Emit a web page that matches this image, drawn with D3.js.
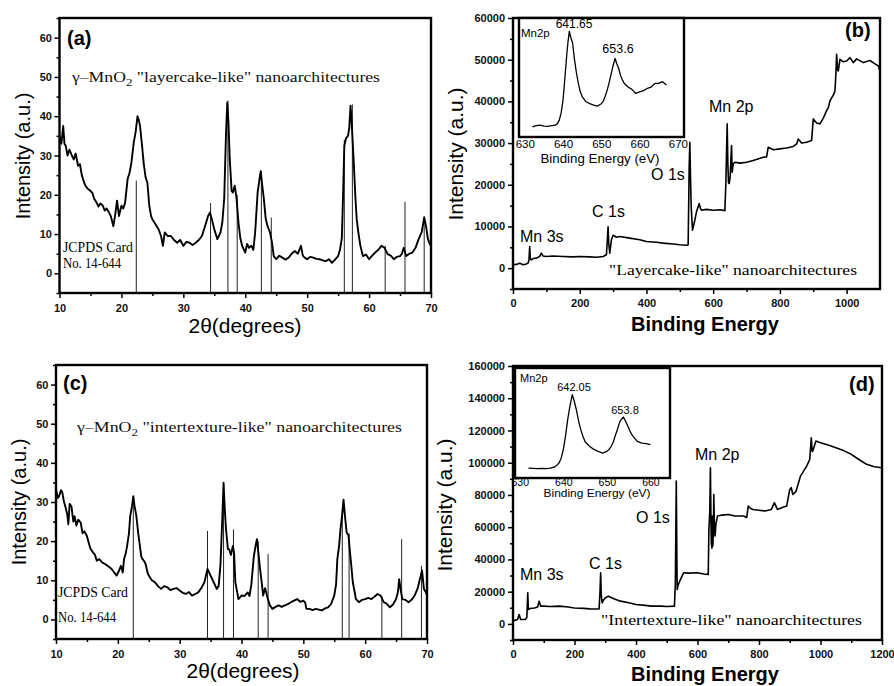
<!DOCTYPE html>
<html>
<head>
<meta charset="utf-8">
<script src="https://cdn.jsdelivr.net/npm/d3@7"></script>
<style>
  body { margin: 0; background: #fff; }
  svg { display: block; }
</style>
</head>
<body>
<svg id="fig" width="894" height="686"></svg>
<script>
// ---- data ----

// (a) XRD, layercake-like: [2theta, intensity]
const xrdA = [[10,35],[10.3,33],[10.6,37.5],[10.8,33],[11,32.5],[11.3,30],[11.6,31.5],[12,30],[12.3,29],[12.6,30.5],[13,27.4],[13.3,27.8],[13.6,25],[14,23],[14.3,22],[14.6,21.5],[15,21],[15.3,20.5],[15.6,19],[16,18],[16.3,17],[16.6,17.8],[17,17.2],[17.3,16],[17.6,16.5],[18,15.5],[18.3,14.5],[18.7,12],[19,15],[19.3,18.5],[19.6,14.6],[20,17.2],[20.3,16.5],[20.6,18],[21,24],[21.3,25.5],[21.6,28],[22,33.4],[22.3,36],[22.6,40],[22.8,39],[23,37.6],[23.3,33],[23.6,28],[23.9,24.5],[24.2,23],[24.5,17.2],[24.8,14.5],[25,13.8],[25.5,12.5],[26,11.2],[26.4,9.5],[26.7,7],[27,10.4],[27.5,9.5],[28,9.5],[28.5,8.5],[29,7.8],[29.5,8.5],[30,7],[30.5,8],[31,7.8],[31.5,7.2],[32,7.8],[32.5,8.5],[33,9.5],[33.5,12],[34,14.6],[34.3,15.5],[34.6,13.8],[35,11.2],[35.5,8.7],[36,10.4],[36.3,13],[36.6,19],[36.9,36],[37.1,43.5],[37.3,38],[37.5,29],[37.8,21],[38,20.6],[38.3,22.3],[38.6,19],[38.9,13],[39.2,9],[39.5,7],[40,5.3],[40.3,7.5],[40.6,6.5],[41,7],[41.3,6],[41.6,10.4],[42,20.6],[42.3,24],[42.5,26],[42.7,23],[43,19],[43.3,14],[43.6,12],[44,10.4],[44.3,8],[44.6,4.4],[45,3.6],[45.5,4.5],[46,4],[46.5,3.5],[47,4],[47.5,5],[48,5.7],[48.5,5],[49,7],[49.3,4.5],[49.6,4],[50,3.6],[50.5,4.2],[51,4],[51.5,3.7],[52,3.6],[52.5,3.3],[53,3.1],[53.5,3.6],[54,2.7],[54.5,3.5],[55,4.4],[55.3,6],[55.6,9],[55.8,20],[56,32.5],[56.3,34.5],[56.6,35],[56.8,37],[57,42.7],[57.2,38],[57.5,29],[57.8,19],[58,13.8],[58.3,10],[58.6,7],[59,4.4],[59.5,4.8],[60,3.6],[60.5,4.5],[61,5.3],[61.5,6],[62,7],[62.5,6.5],[63,4.9],[63.5,4.5],[64,3.6],[64.5,4.2],[65,4.4],[65.3,5],[65.6,6.5],[66,4.4],[66.5,5],[67,5.3],[67.5,6.5],[68,8.7],[68.5,10.5],[68.9,14.2],[69.2,12],[69.5,8.7],[69.8,7.5],[70,7]]

// JCPDS 14-644 reference lines for (a): positions and heights
const jcpdsPosA = [22.4, 34.4, 37.2, 38.7, 42.6, 44.2, 56.0, 57.3, 62.6, 65.8, 68.9]
const jcpdsHtA  = [23.6, 17.9, 44, 20, 26, 14.2, 34, 43, 7, 18.2, 14.6]

// (c) XRD, intertexture-like
const xrdC = [[10,33.2],[10.3,31],[10.5,31.5],[10.8,33],[11,32.6],[11.3,30],[11.5,28.9],[11.8,27],[12,24.3],[12.2,29.5],[12.5,28.9],[12.8,25],[13,26.4],[13.3,24],[13.6,25.5],[14,24.7],[14.3,22],[14.6,22.5],[15,21.3],[15.3,19.5],[15.6,18],[16,17.1],[16.3,16.5],[16.6,15],[17,15.4],[17.5,14.5],[18,14.1],[18.5,13.5],[19,12.9],[19.4,12],[19.8,11.2],[20.2,12.5],[20.5,13.7],[20.8,12],[21,15.4],[21.3,17],[21.5,18.8],[21.8,22],[22,26.4],[22.3,29],[22.5,31.5],[22.7,29],[23,26.4],[23.3,22],[23.5,19.6],[23.8,16],[24,15.4],[24.3,14.8],[24.5,14.1],[24.8,12],[25,11.2],[25.5,10],[26,9.5],[26.5,8.5],[27,7.8],[27.5,8.5],[28,8.2],[28.5,7.5],[29,7.8],[29.5,8],[30,7.4],[30.5,6.8],[31,6.5],[31.5,7],[32,6.1],[32.5,6.5],[33,6.9],[33.5,8],[34,9.5],[34.5,12.9],[35,11.2],[35.5,9.5],[36,7.8],[36.3,8.5],[36.6,14],[36.9,26],[37.1,34.9],[37.3,28],[37.5,23],[37.8,18],[38,17.9],[38.3,16.5],[38.6,18.8],[38.8,17],[39,9.5],[39.3,7],[39.5,5.2],[40,6.1],[40.5,6],[41,6.9],[41.3,6],[41.6,9],[42,16.2],[42.3,19],[42.5,20.5],[42.8,16],[43,12.9],[43.3,9],[43.5,6.1],[43.8,8],[44,6.9],[44.3,5],[44.6,3.6],[45,2.7],[45.5,3.2],[46,3.6],[46.5,3.2],[47,3.6],[47.5,3.9],[48,4.4],[48.5,4.8],[49,5.2],[49.5,4.5],[50,4.8],[50.3,4.3],[50.5,2.7],[51,2.7],[51.5,2.4],[52,2.7],[52.5,2.5],[53,2.3],[53.5,2.8],[54,3.1],[54.5,4],[55,6.1],[55.3,9],[55.5,15.4],[55.8,19],[56,23],[56.3,27],[56.5,30.6],[56.7,27],[57,22.2],[57.3,21.5],[57.5,17.9],[57.8,13],[58,9.5],[58.3,7],[58.5,5.2],[59,4.4],[59.5,5],[60,5.2],[60.5,5.5],[61,5.2],[61.5,5.8],[62,6.5],[62.5,6.1],[63,4.4],[63.5,4],[64,3.1],[64.5,3.8],[65,5.2],[65.3,7],[65.5,10.3],[65.7,8],[66,5.2],[66.5,5],[67,4.4],[67.5,5],[68,6.1],[68.5,8],[68.8,10],[69,11.2],[69.2,12.5],[69.5,7.8],[69.8,7],[70,6.1]]

const jcpdsPosC = [22.5, 34.5, 37.1, 38.7, 42.7, 44.3, 56.3, 57.4, 62.7, 65.9, 69.1]
const jcpdsHtC  = [30, 22.6, 35, 23, 20, 16.7, 28, 22, 6, 20.5, 13.7]

// (b) XPS survey, layercake-like: [binding energy, counts]
const xpsB = [[0,800],[10,900],[20,1200],[30,800],[40,1000],[45,1200],[48,2000],[50,5200],[52,2200],[55,2000],[60,2300],[70,2400],[80,2800],[85,3600],[90,2900],[100,2800],[120,2900],[150,2800],[180,2700],[200,2800],[230,2700],[250,2600],[270,2800],[280,3200],[283,7000],[285,9900],[287,6000],[290,3600],[293,5500],[295,6800],[300,7900],[310,7400],[320,7600],[350,7200],[380,6800],[400,6400],[430,6200],[450,6000],[480,5800],[500,5600],[520,5500],[525,5600],[528,24000],[530,30200],[532,22000],[534,15000],[538,9100],[542,10500],[545,11500],[550,13500],[555,14700],[558,15500],[562,14300],[565,13900],[580,14100],[600,13900],[620,14000],[635,13800],[638,20300],[640,28000],[642,34600],[644,25000],[646,20500],[648,20300],[651,22000],[653,26000],[655,29400],[657,23000],[660,25000],[665,25400],[680,25200],[700,25400],[720,25800],[750,26600],[760,26700],[765,29000],[780,28400],[800,28600],[820,28800],[840,29200],[850,29800],[855,31000],[865,30000],[880,30200],[895,30600],[900,35800],[910,34800],[920,34600],[930,36000],[940,37800],[945,38500],[950,40100],[960,41500],[965,42500],[968,47000],[970,51300],[973,47500],[975,47300],[980,50100],[990,49500],[1000,49700],[1010,50500],[1020,49300],[1030,50200],[1050,49300],[1070,49800],[1085,49000],[1095,48500],[1100,47300]]

// (b) inset Mn2p region: [eV, relative intensity 0-100 of inset frame]
const insetB = [[632,8.5],[633,9.5],[634,9.9],[635,9.2],[636,9],[637,9.6],[638,9.9],[638.5,11],[639,14],[639.5,20],[640,31],[640.5,50],[641,70],[641.3,80],[641.65,88.7],[642,84],[642.5,79],[643,65],[643.5,54],[644,45],[644.5,38],[645,34],[646,29.6],[647,28],[648,26.8],[649,26],[650,28],[650.5,30],[651,34],[651.5,39],[652,45],[652.5,52],[653,59],[653.6,66],[654,62],[654.5,58],[655,52],[655.5,48],[656,45],[657,42],[658,40],[659,36.6],[660,38],[661,39],[662,40.8],[663,42],[664,45],[665,45],[666,46.5],[667,43.7]]

// (d) XPS survey, intertexture-like
const xpsD = [[0,1700],[10,2500],[15,2700],[20,5800],[25,2700],[40,2700],[45,4000],[48,19300],[50,8900],[55,9500],[70,9900],[80,10500],[85,14100],[90,11000],[100,11000],[120,10800],[150,11000],[180,10500],[200,9900],[230,9600],[250,9300],[270,9200],[280,9300],[283,20000],[285,31700],[287,18000],[290,13000],[295,15000],[300,16100],[310,17200],[330,15500],[350,14100],[380,13000],[400,12000],[430,11500],[450,11000],[480,11000],[500,10800],[525,11000],[528,25500],[531,88600],[533,40000],[534,21300],[537,24000],[540,25500],[548,29000],[555,31700],[570,31500],[600,31700],[620,31000],[635,30600],[637,58600],[640,70000],[642,96900],[644,60000],[645,50300],[647,47000],[648,66900],[650,48300],[652,60000],[653,80300],[655,60000],[657,54500],[660,62000],[665,66900],[680,67500],[700,67900],[720,67000],[750,66900],[760,66000],[765,73100],[770,72000],[780,71000],[800,70500],[820,70000],[840,71000],[850,75200],[860,71000],[880,72500],[890,73100],[900,83400],[905,84500],[910,80300],[920,82000],[935,91700],[945,94800],[955,97900],[965,102000],[970,115500],[973,107000],[975,107200],[985,113400],[1000,112400],[1025,111000],[1050,109300],[1075,107500],[1100,105200],[1125,102000],[1150,99000],[1175,97500],[1200,96900]]

const insetD = [[632,9],[633,8.8],[634,8.5],[635,8.7],[636,8.5],[637,9],[638,10],[638.5,11.5],[639,13.6],[639.5,18],[640,25.8],[640.5,38],[641,53],[641.5,65],[642.05,75.8],[642.5,70],[643,62],[643.5,52],[644,44],[644.5,38],[645,33],[646,28.8],[647,26],[648,24.2],[649,22.7],[650,24.2],[650.5,26],[651,28.8],[651.5,33],[652,39.4],[652.5,45],[653,51.5],[653.8,55.5],[654.5,50],[655,45.5],[655.5,41],[656,37.9],[657,33.3],[658,31.8],[659,31.2],[660,30.3]]

// tick labels
const xrdXTicks = [10, 20, 30, 40, 50, 60, 70]
const xrdYTicks = [0, 10, 20, 30, 40, 50, 60]
const xpsXTicksB = [0, 200, 400, 600, 800, 1000]
const xpsYTicksB = [0, 10000, 20000, 30000, 40000, 50000, 60000]
const xpsXTicksD = [0, 200, 400, 600, 800, 1000, 1200]
const xpsYTicksD = [0, 20000, 40000, 60000, 80000, 100000, 120000, 140000, 160000]
const insetTicksB = [630, 640, 650, 660, 670]
const insetTicksD = [630, 640, 650, 660]

// ---- drawing ----
const SANS = "'Liberation Sans', Arial, Helvetica, sans-serif"
const SERIF = "'Liberation Serif', 'Times New Roman', serif"
const fmt = d3.format("d")

const svg = d3.select("#fig")

/**
 * One framed panel: scales, ticks (major + minor), frame, curve.
 */
function drawPanel(p) {
  const w = p.right - p.left
  const h = p.bottom - p.top
  const g = svg.append("g").attr("transform", `translate(${p.left},${p.top})`)

  const x = d3.scaleLinear().domain(p.xDomain).range([0, w])
  const y = d3.scaleLinear().domain(p.yDomain).range([h, 0])

  // minor ticks
  g.append("g")
    .attr("transform", `translate(0,${h})`)
    .call(d3.axisBottom(x).tickValues(p.xMinor).tickSize(3).tickFormat(""))
  g.append("g")
    .call(d3.axisLeft(y).tickValues(p.yMinor).tickSize(3).tickFormat(""))

  // major ticks
  g.append("g")
    .attr("class", "tl")
    .attr("transform", `translate(0,${h})`)
    .call(d3.axisBottom(x).tickValues(p.xTicks).tickSize(5).tickPadding(p.xPad).tickFormat(fmt))
  g.append("g")
    .attr("class", "tl")
    .call(d3.axisLeft(y).tickValues(p.yTicks).tickSize(5).tickPadding(p.yPad).tickFormat(fmt))

  g.selectAll(".domain").remove()
  g.selectAll(".tick line").attr("stroke", "#000").attr("stroke-width", 1.5)
  g.selectAll(".tl")
    .attr("font-family", SANS)
    .attr("font-size", 11)
    .attr("font-weight", "bold")
  g.selectAll(".tl text").attr("fill", "#111")

  return { g, x, y, w, h }
}

function drawFrame(pp) {
  pp.g.append("rect")
    .attr("x", 0).attr("y", 0)
    .attr("width", pp.w).attr("height", pp.h)
    .attr("fill", "none")
    .attr("stroke", "#000")
    .attr("stroke-width", 2.4)
}

function drawCurve(pp, data, sw) {
  const line = d3.line().x(d => pp.x(d[0])).y(d => pp.y(d[1]))
  pp.g.append("path")
    .datum(data)
    .attr("d", line)
    .attr("fill", "none")
    .attr("stroke", "#000")
    .attr("stroke-width", sw)
    .attr("stroke-linejoin", "round")
}

function drawSticks(pp, pos, ht) {
  pp.g.selectAll(".stick")
    .data(pos.map((d, i) => [d, ht[i]]))
    .enter()
    .append("line")
    .attr("class", "stick")
    .attr("x1", d => pp.x(d[0]))
    .attr("x2", d => pp.x(d[0]))
    .attr("y1", pp.y(pp.y.domain()[0]))
    .attr("y2", d => pp.y(d[1]))
    .attr("stroke", "#222")
    .attr("stroke-width", 1)
}

function text(x, y, str, o) {
  o = o || {}
  const t = svg.append("text")
    .attr("x", x).attr("y", y)
    .attr("font-family", o.family || SANS)
    .attr("font-size", o.size || 12)
    .attr("font-weight", o.weight || "normal")
    .attr("text-anchor", o.anchor || "start")
    .attr("fill", "#000")
    .text(str)
  if (o.rotate) t.attr("transform", `rotate(-90,${x},${y})`)
  if (o.len) t.attr("textLength", o.len).attr("lengthAdjust", "spacingAndGlyphs")
  return t
}

// subscripted MnO2 caption
function caption(x, y, pre, post, len) {
  const t = svg.append("text")
    .attr("x", x).attr("y", y)
    .attr("font-family", SERIF)
    .attr("font-size", 15)
    .attr("fill", "#111")
  t.append("tspan").text(pre)
  t.append("tspan").attr("font-size", 11).attr("dy", 4).text("2")
  t.append("tspan").attr("dy", -4).text(post)
  t.attr("textLength", len).attr("lengthAdjust", "spacingAndGlyphs")
}

// ---------- (a) ----------
const pa = drawPanel({
  left: 59.5, right: 431, top: 18, bottom: 293,
  xDomain: [10, 70], yDomain: [-5, 65],
  xTicks: xrdXTicks, xMinor: d3.range(15, 70, 10),
  yTicks: xrdYTicks, yMinor: d3.range(-5, 66, 10),
  xPad: 6, yPad: 2.5
})
drawSticks(pa, jcpdsPosA, jcpdsHtA)
drawCurve(pa, xrdA, 1.9)
drawFrame(pa)
text(67, 45, "(a)", { size: 20, weight: "bold" })
caption(72, 82, "\u03b3\u2013MnO", " \"layercake-like\" nanoarchitectures", 308)
text(63, 252, "JCPDS Card", { family: SERIF, size: 14, len: 70 })
text(63, 268, "No. 14-644", { family: SERIF, size: 14, len: 58 })
text(29.5, 156, "Intensity (a.u.)", { size: 20, anchor: "middle", rotate: true })
text(245, 333, "2\u03b8(degrees)", { size: 20, anchor: "middle", len: 113 })

// ---------- (c) ----------
const pc = drawPanel({
  left: 56, right: 427, top: 365, bottom: 639,
  xDomain: [10, 70], yDomain: [-5, 65],
  xTicks: xrdXTicks, xMinor: d3.range(15, 70, 10),
  yTicks: xrdYTicks, yMinor: d3.range(-5, 66, 10),
  xPad: 6, yPad: 2.5
})
drawSticks(pc, jcpdsPosC, jcpdsHtC)
drawCurve(pc, xrdC, 1.9)
drawFrame(pc)
text(63, 390, "(c)", { size: 20, weight: "bold" })
caption(77, 432, "\u03b3\u2013MnO", " \"intertexture-like\" nanoarchitectures", 325)
text(58, 597, "JCPDS Card", { family: SERIF, size: 14, len: 70 })
text(58, 622, "No. 14-644", { family: SERIF, size: 14, len: 58 })
text(26, 502, "Intensity (a.u.)", { size: 20, anchor: "middle", rotate: true })
text(243, 678, "2\u03b8(degrees)", { size: 20, anchor: "middle", len: 113 })

// ---------- (b) ----------
const pb = drawPanel({
  left: 513, right: 880, top: 18, bottom: 289,
  xDomain: [0, 1100], yDomain: [-5000, 60000],
  xTicks: xpsXTicksB, xMinor: d3.range(100, 1100, 200),
  yTicks: xpsYTicksB, yMinor: d3.range(-5000, 60000, 10000),
  xPad: 5, yPad: 3
})
drawCurve(pb, xpsB, 1.6)
drawFrame(pb)
text(845, 37, "(b)", { size: 20, weight: "bold" })
text(709, 112, "Mn 2p", { size: 16 })
text(651, 180, "O 1s", { size: 16 })
text(592, 217, "C 1s", { size: 16 })
text(520, 242, "Mn 3s", { size: 16 })
text(609, 275, "\"Layercake-like\" nanoarchitectures", { family: SERIF, size: 15, len: 248 })
text(463, 154, "Intensity (a.u.)", { size: 21, anchor: "middle", rotate: true })
text(705, 331, "Binding Energy", { size: 20, weight: "bold", anchor: "middle" })

// inset (b)
const ib = drawPanel({
  left: 519, right: 684, top: 18, bottom: 137,
  xDomain: [628.5, 671.6], yDomain: [0, 100],
  xTicks: [], xMinor: [], yTicks: [], yMinor: [],
  xPad: 0, yPad: 0
})
ib.g.insert("rect", ":first-child")
  .attr("width", ib.w).attr("height", ib.h).attr("fill", "#fff")
ib.g.append("g")
  .attr("transform", `translate(0,${ib.h})`)
  .call(d3.axisBottom(ib.x).tickValues(insetTicksB).tickSize(0).tickPadding(3))
  .attr("font-family", SANS).attr("font-size", 11.5)
  .call(g => g.select(".domain").remove())
drawCurve(ib, insetB, 1.3)
drawFrame(ib)
text(521, 37, "Mn2p", { size: 11.5 })
text(574, 28, "641.65", { size: 12, anchor: "middle" })
text(618, 53, "653.6", { size: 12.5, anchor: "middle" })
text(600, 163, "Binding Energy (eV)", { size: 12, anchor: "middle", len: 119 })

// ---------- (d) ----------
const pd = drawPanel({
  left: 513, right: 882, top: 366, bottom: 640,
  xDomain: [0, 1200], yDomain: [-10000, 160000],
  xTicks: xpsXTicksD, xMinor: d3.range(100, 1200, 200),
  yTicks: xpsYTicksD, yMinor: d3.range(-10000, 160000, 20000),
  xPad: 5, yPad: 3
})
drawCurve(pd, xpsD, 1.6)
drawFrame(pd)
text(849, 391, "(d)", { size: 20, weight: "bold" })
text(695, 460, "Mn 2p", { size: 16 })
text(636, 523, "O 1s", { size: 16 })
text(589, 569, "C 1s", { size: 16 })
text(520, 580, "Mn 3s", { size: 16 })
text(601, 625, "\"Intertexture-like\" nanoarchitectures", { family: SERIF, size: 15, len: 261 })
text(452, 505, "Intensity (a.u.)", { size: 21, anchor: "middle", rotate: true })
text(705, 681, "Binding Energy", { size: 20, weight: "bold", anchor: "middle" })

// inset (d)
const idd = drawPanel({
  left: 515, right: 670, top: 368, bottom: 478,
  xDomain: [628.9, 664.5], yDomain: [0, 100],
  xTicks: [], xMinor: [], yTicks: [], yMinor: [],
  xPad: 0, yPad: 0
})
idd.g.insert("rect", ":first-child")
  .attr("width", idd.w).attr("height", idd.h).attr("fill", "#fff")
idd.g.append("g")
  .attr("transform", `translate(0,${idd.h})`)
  .call(d3.axisBottom(idd.x).tickValues(insetTicksD).tickSize(0).tickPadding(1))
  .attr("font-family", SANS).attr("font-size", 10.5)
  .call(g => g.select(".domain").remove())
drawCurve(idd, insetD, 1.3)
drawFrame(idd)
text(520, 382, "Mn2p", { size: 11 })
text(574, 391, "642.05", { size: 11, anchor: "middle" })
text(625, 414, "653.8", { size: 11, anchor: "middle" })
text(597, 497, "Binding Energy (eV)", { size: 11.5, anchor: "middle", len: 107 })
</script>
</body>
</html>
